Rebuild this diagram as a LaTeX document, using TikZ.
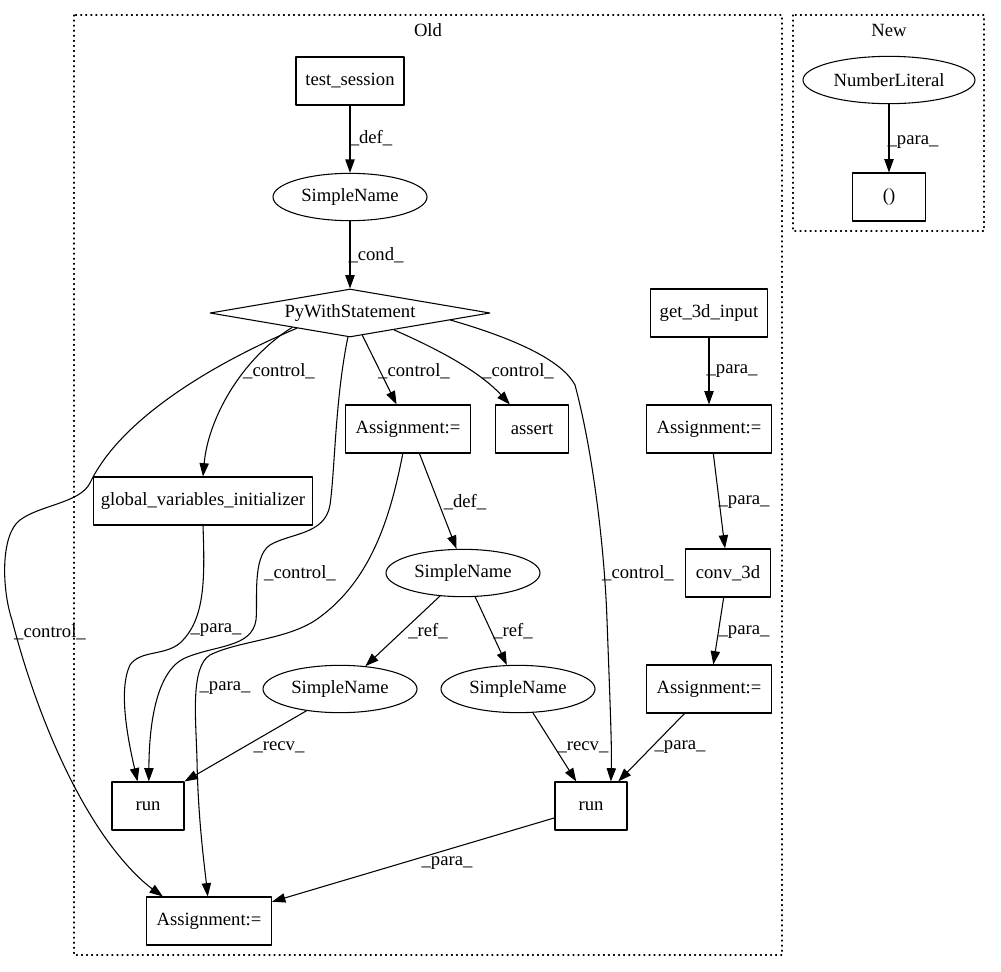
\documentclass[tikz,border=0pt]{standalone}
\usepackage{fontspec}
\setmainfont{Liberation Serif}
\usetikzlibrary{shapes.geometric,arrows.meta}

\begin{document}
\begin{tikzpicture}[x=0.75pt, y=-0.75pt, font=\fontsize{14}{16}\selectfont, line join=round, line cap=round, >={Triangle[length=10pt,width=7pt]},
	box/.style={draw, line width=0.8pt, rectangle, minimum height=36pt, inner sep=0pt},
	oval/.style={draw, line width=0.8pt, ellipse, minimum height=35.5pt, inner sep=0pt},
	cond/.style={draw, line width=0.8pt, diamond, aspect=5.8, minimum width=210pt, minimum height=36pt, inner sep=0pt},
	lbl/.style={inner sep=0pt},
	flow/.style={->, line width=0.8pt},
	cluster/.style={line width=0.8pt, dash pattern=on 0.8pt off 3pt}]
	\useasboundingbox (0,0) rectangle (1001,972);
	% clusters
	\draw[cluster] (74,15) rectangle (782,955);
	\node (oldtitle) at (428,30) {Old};
	\draw[cluster] (793,15) rectangle (984,231);
	\node (newtitle) at (889,30) {New};
	% nodes
	\node[box, minimum width=81pt] (ts) at (350,81) {test\_session};
	\node[oval, minimum width=115.5pt] (sn) at (350,197) {SimpleName};
	\node[cond] (pw) at (350,313) {PyWithStatement};
	\node[box, minimum width=87.75pt] (gi) at (709,313) {get\_3d\_input};
	\node[box, minimum width=93.75pt] (am) at (408,429) {Assignment:=};
	\node[box, minimum width=54.75pt] (as) at (532,429) {assert};
	\node[box, minimum width=93.75pt] (ar) at (709,429) {Assignment:=};
	\node[box, minimum width=164.25pt] (gv) at (203,501) {global\_variables\_initializer};
	\node[oval, minimum width=115.5pt] (snm) at (463,573) {SimpleName};
	\node[box, minimum width=63.75pt] (cv) at (728,573) {conv\_3d};
	\node[oval, minimum width=115.5pt] (snl) at (340,689) {SimpleName};
	\node[oval, minimum width=115.5pt] (snr) at (518,689) {SimpleName};
	\node[box, minimum width=93.75pt] (al) at (709,689) {Assignment:=};
	\node[box, minimum width=54pt] (rl) at (148,806) {run};
	\node[box, minimum width=54pt] (rr) at (591,806) {run};
	\node[box, minimum width=93.75pt] (ab) at (209,921) {Assignment:=};
	\node[oval, minimum width=129pt] (nl) at (889,80) {NumberLiteral};
	\node[box, minimum width=54.75pt] (pr) at (889,197) {()};
	% edges
	\draw[flow] (ts) -- (sn) node[lbl] at (371,138) {\_def\_};
	\draw[flow] (sn) -- (pw) node[lbl] at (376,255) {\_cond\_};
	\draw[flow] (pw.299) -- (am.115) node[lbl] at (414,371) {\_control\_};
	\draw[flow] (pw.339) .. controls (440,350) and (480,372) .. (as.132) node[lbl] at (518,371) {\_control\_};
	\draw[flow] (pw.194) .. controls (240,360) and (208,420) .. (gv.north) node[lbl] at (279,371) {\_control\_};
	\draw[flow] (pw.196) .. controls (210,365) and (120,420) .. (90,483)
		.. controls (80,503) and (40,505) .. (20,520)
		.. controls (0,535) and (2,590) .. (12,620)
		.. controls (30,690) and (60,770) .. (100,830)
		.. controls (120,860) and (140,880) .. (ab.152) node[lbl] at (50,632) {\_control\_};
	\draw[flow] (pw.265) .. controls (335,400) and (335,470) .. (330,505)
		.. controls (325,535) and (290,533) .. (270,545)
		.. controls (252,557) and (258,600) .. (256,620)
		.. controls (252,648) and (215,645) .. (185,658)
		.. controls (152,673) and (149,740) .. (rl.88) node[lbl] at (300,573) {\_control\_};
	\draw[flow] (pw.356) .. controls (520,340) and (563,362) .. (575,385)
		.. controls (595,460) and (605,560) .. (607,620)
		.. controls (610,700) and (612,750) .. (rr.51) node[lbl] at (638,573) {\_control\_};
	\draw[flow] (gv.south) .. controls (205,580) and (205,620) .. (180,643)
		.. controls (165,656) and (140,650) .. (130,665)
		.. controls (118,690) and (128,740) .. (rl.113) node[lbl] at (216,630) {\_para\_};
	\draw[flow] (am.258) .. controls (390,520) and (370,580) .. (320,617)
		.. controls (290,640) and (240,640) .. (210,655)
		.. controls (190,667) and (196,720) .. (197,760)
		.. controls (198,820) and (205,870) .. (ab.93) node[lbl] at (225,688) {\_para\_};
	\draw[flow] (gi) -- (ar) node[lbl] at (732,371) {\_para\_};
	\draw[flow] (ar.280) -- (cv.97) node[lbl] at (744,502) {\_para\_};
	\draw[flow] (cv.260) -- (al.80) node[lbl] at (744,632) {\_para\_};
	\draw[flow] (am.295) -- (snm.105) node[lbl] at (465,502) {\_def\_};
	\draw[flow] (snm.225) -- (snl.42) node[lbl] at (428,631) {\_ref\_};
	\draw[flow] (snm.297) -- (snr.115) node[lbl] at (513,631) {\_ref\_};
	\draw[flow] (snl.213) -- (rl.north east) node[lbl] at (279,747) {\_recv\_};
	\draw[flow] (snr.302) -- (rr.121) node[lbl] at (583,747) {\_recv\_};
	\draw[flow] (al.225) -- (rr.42) node[lbl] at (680,747) {\_para\_};
	\draw[flow] (rr.198) -- (ab.17) node[lbl] at (447,863) {\_para\_};
	\draw[flow] (nl) -- (pr) node[lbl] at (913,142) {\_para\_};
\end{tikzpicture}
\end{document}
